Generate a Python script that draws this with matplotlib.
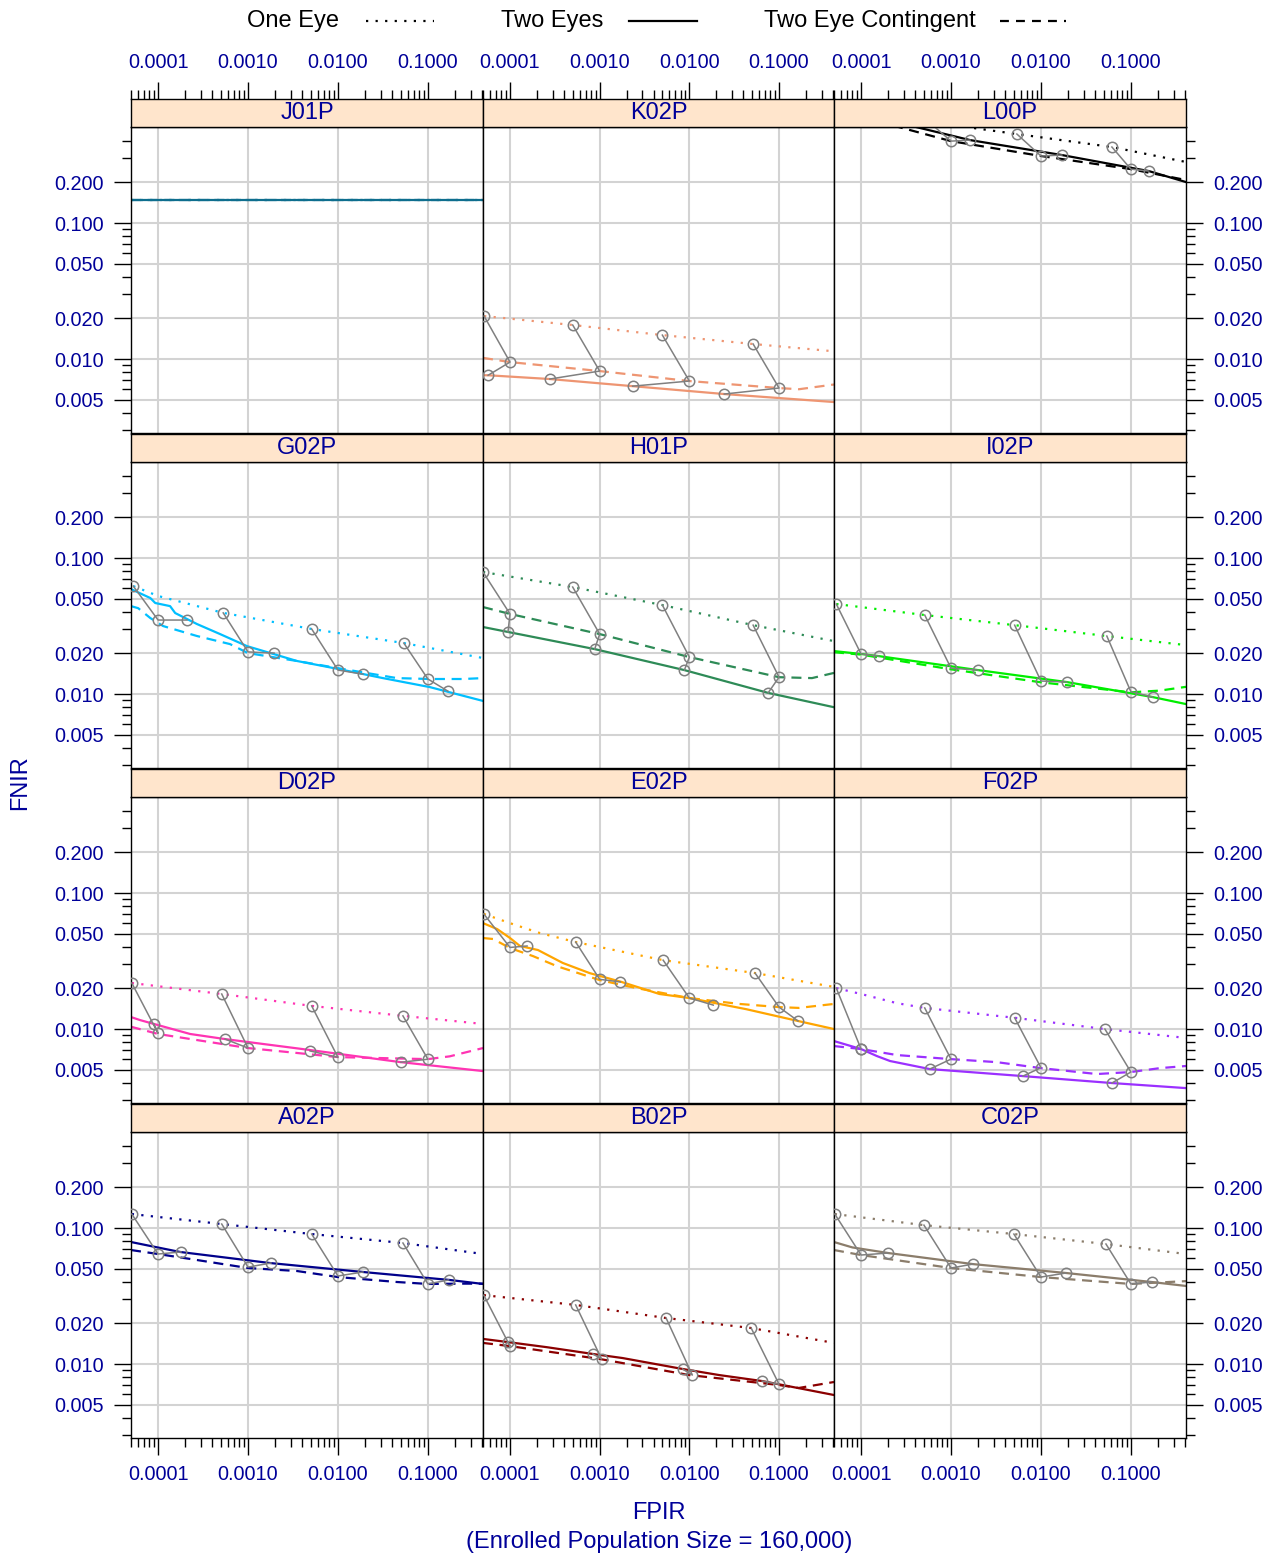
import matplotlib
matplotlib.use("Agg")
import matplotlib.pyplot as plt
from matplotlib.lines import Line2D
from matplotlib.ticker import FixedLocator, FixedFormatter, NullFormatter

plt.rcParams['font.family'] = ['Liberation Sans', 'DejaVu Sans']

# ---- data: (FPIR, FNIR) points ----
j01p_one = [(5e-5, 0.1475), (0.41, 0.1475)]
j01p_two = [(5e-5, 0.1475), (0.41, 0.1475)]
j01p_cont = [(5e-5, 0.1475), (0.41, 0.1475)]
j01p_marks = []

k02p_one = [(5.14e-5, 0.0207), (5.0e-4, 0.0178), (5.0e-3, 0.0150), (0.0514, 0.0129), (0.41, 0.0114)]
k02p_two = [(5e-5, 0.0076), (5.7e-5, 0.0076), (2.78e-4, 0.00713), (2.33e-3, 0.00632), (0.0245, 0.00553), (0.41, 0.00483)]
k02p_cont = [(5e-5, 0.0102), (1e-4, 0.0095), (1e-3, 0.00816), (0.01, 0.00689), (0.1, 0.00612), (0.167, 0.0060), (0.41, 0.0065)]
k02p_marks = [[(5.14e-5, 0.0207), (1e-4, 0.0095), (5.7e-5, 0.0076)],
              [(5e-4, 0.0178), (1e-3, 0.00816), (2.78e-4, 0.00713)],
              [(5e-3, 0.0150), (0.01, 0.00689), (2.33e-3, 0.00632)],
              [(0.0514, 0.0129), (0.1, 0.00612), (0.0245, 0.00553)]]

l00p_one = [(5.4e-4, 0.57), (0.00175, 0.50), (5.4e-3, 0.451), (0.0615, 0.362), (0.41, 0.281)]
l00p_two = [(2.5e-4, 0.55), (4.5e-4, 0.50), (1.63e-3, 0.407), (0.0171, 0.316), (0.158, 0.241), (0.41, 0.20)]
l00p_cont = [(1.5e-4, 0.56), (2.86e-4, 0.50), (1e-3, 0.40), (0.01, 0.311), (0.1, 0.249), (0.41, 0.207)]
l00p_marks = [[(5.4e-4, 0.57), (1e-3, 0.40), (1.63e-3, 0.407)],
              [(5.4e-3, 0.451), (0.01, 0.311), (0.0171, 0.316)],
              [(0.0615, 0.362), (0.1, 0.249), (0.158, 0.241)]]

g02p_one = [(5.3e-5, 0.0622), (1e-4, 0.0526), (5.3e-4, 0.0395), (5.1e-3, 0.0301), (0.054, 0.0237), (0.41, 0.0184)]
g02p_two = [(5e-5, 0.0591), (8.2e-5, 0.0508), (9.3e-5, 0.0467), (1.36e-4, 0.0443), (1.55e-4, 0.0394),
            (2.71e-4, 0.0327), (4.89e-4, 0.0276), (9.75e-4, 0.0225), (3.5e-3, 0.0175), (0.01, 0.0153),
            (0.0316, 0.0131), (0.105, 0.01125), (0.41, 0.0089)]
g02p_cont = [(5e-5, 0.0443), (6e-5, 0.0428), (8.2e-5, 0.0362), (1.14e-4, 0.0316), (2.71e-4, 0.0267),
             (6.3e-4, 0.0233), (1e-3, 0.020), (3.5e-3, 0.0175), (0.01, 0.0155), (0.0453, 0.0131),
             (0.105, 0.0129), (0.245, 0.0129), (0.41, 0.0131)]
g02p_marks = [[(5.3e-5, 0.0622), (1e-4, 0.035), (2.1e-4, 0.035)],
              [(5.3e-4, 0.0395), (1e-3, 0.0204), (1.95e-3, 0.020)],
              [(5.1e-3, 0.0301), (0.01, 0.015), (0.019, 0.014)],
              [(0.054, 0.0237), (0.1, 0.0129), (0.167, 0.0105)]]

h01p_one = [(5e-5, 0.0789), (5e-4, 0.0612), (5e-3, 0.0451), (0.0514, 0.0321), (0.41, 0.0245)]
h01p_two = [(5e-5, 0.0311), (9.5e-5, 0.0286), (8.8e-4, 0.0214), (8.8e-3, 0.015), (0.0755, 0.0102), (0.41, 0.008)]
h01p_cont = [(5e-5, 0.0436), (1e-4, 0.0388), (1e-3, 0.0276), (0.01, 0.0187), (0.1, 0.0133), (0.233, 0.0131), (0.41, 0.0143)]
h01p_marks = [[(5e-5, 0.0789), (1e-4, 0.0388), (9.5e-5, 0.0286)],
              [(5e-4, 0.0612), (1e-3, 0.0276), (8.8e-4, 0.0214)],
              [(5e-3, 0.0451), (0.01, 0.0187), (8.8e-3, 0.015)],
              [(0.0514, 0.0321), (0.1, 0.0133), (0.0755, 0.0102)]]

i02p_one = [(5.3e-5, 0.0459), (5.1e-4, 0.0381), (5.1e-3, 0.0321), (0.054, 0.0267), (0.41, 0.0229)]
i02p_two = [(5e-5, 0.0207), (1e-4, 0.0197), (1.58e-4, 0.019), (2e-3, 0.015), (0.0194, 0.01225), (0.175, 0.0095), (0.41, 0.00844)]
i02p_cont = [(5e-5, 0.0203), (1e-4, 0.0195), (1e-3, 0.0152), (0.01, 0.0122), (0.1, 0.0103), (0.21, 0.0106), (0.41, 0.0113)]
i02p_marks = [[(5.3e-5, 0.0459), (1e-4, 0.0197), (1.58e-4, 0.019)],
              [(5.1e-4, 0.0381), (1e-3, 0.0155), (2e-3, 0.015)],
              [(5.1e-3, 0.0321), (0.01, 0.01247), (0.0194, 0.01225)],
              [(0.054, 0.0267), (0.1, 0.0104), (0.175, 0.0095)]]

d02p_one = [(5.1e-5, 0.0218), (5.1e-4, 0.0181), (5.1e-3, 0.0148), (0.0528, 0.0125), (0.41, 0.0109)]
d02p_two = [(5e-5, 0.01225), (6.3e-5, 0.01164), (9e-5, 0.0109), (2.27e-4, 0.0092), (5.55e-4, 0.00844),
            (4.9e-3, 0.00701), (0.0489, 0.00572), (0.41, 0.00491)]
d02p_cont = [(5e-5, 0.0104), (1e-4, 0.0092), (1e-3, 0.00725), (0.01, 0.00622), (0.1, 0.00601), (0.175, 0.0063), (0.41, 0.00725)]
d02p_marks = [[(5.1e-5, 0.0218), (1e-4, 0.0093), (9e-5, 0.0109)],
              [(5.1e-4, 0.0181), (1e-3, 0.00725), (5.55e-4, 0.00844)],
              [(5.1e-3, 0.0148), (0.01, 0.0062), (4.9e-3, 0.0069)],
              [(0.0528, 0.0125), (0.1, 0.006), (0.05, 0.0057)]]

e02p_one = [(5.1e-5, 0.0702), (1.08e-4, 0.059), (2.15e-4, 0.0508), (5.4e-4, 0.0436), (5.1e-3, 0.0321), (0.054, 0.0258), (0.41, 0.0204)]
e02p_two = [(5e-5, 0.0601), (7.2e-5, 0.0543), (1e-4, 0.0467), (1.29e-4, 0.0408), (2.05e-4, 0.0381),
            (3.88e-4, 0.0306), (7.7e-4, 0.0258), (1.75e-3, 0.0222), (4.64e-3, 0.0181), (0.01, 0.0169),
            (0.043, 0.014), (0.163, 0.01146), (0.41, 0.010)]
e02p_cont = [(5e-5, 0.0467), (6.5e-5, 0.0459), (1e-4, 0.0394), (1.8e-4, 0.0344), (3.33e-4, 0.029),
             (1e-3, 0.0229), (2.58e-3, 0.020), (0.01, 0.0169), (0.036, 0.0153), (0.1, 0.0145),
             (0.166, 0.0143), (0.41, 0.0153)]
e02p_marks = [[(5.1e-5, 0.0702), (1e-4, 0.0398), (1.55e-4, 0.0408)],
              [(5.4e-4, 0.0436), (1e-3, 0.0232), (1.7e-3, 0.0222)],
              [(5.1e-3, 0.0321), (0.01, 0.0169), (0.0185, 0.015)],
              [(0.054, 0.0258), (0.1, 0.0145), (0.163, 0.01146)]]

f02p_one = [(5.3e-5, 0.020), (1e-4, 0.0181), (2.5e-4, 0.0155), (5.1e-4, 0.0143), (5.1e-3, 0.0121), (0.0514, 0.010), (0.41, 0.0086)]
f02p_two = [(5e-5, 0.00816), (1e-4, 0.00713), (1.5e-4, 0.00633), (2.1e-4, 0.00582), (5.8e-4, 0.00508),
            (6.3e-3, 0.00451), (0.0615, 0.00401), (0.41, 0.00368)]
f02p_cont = [(5e-5, 0.0075), (1e-4, 0.00713), (2.5e-4, 0.00644), (1e-3, 0.00601), (3.24e-3, 0.00571),
             (0.01, 0.00516), (0.0419, 0.00467), (0.1, 0.00483), (0.21, 0.00516), (0.41, 0.00535)]
f02p_marks = [[(5.3e-5, 0.020), (1e-4, 0.00713), (1e-4, 0.00713)],
              [(5.1e-4, 0.0143), (1e-3, 0.00601), (5.8e-4, 0.00508)],
              [(5.1e-3, 0.0121), (0.01, 0.0052), (6.3e-3, 0.00451)],
              [(0.0514, 0.010), (0.1, 0.00483), (0.0615, 0.00401)]]

a02p_one = [(5.1e-5, 0.1267), (5.1e-4, 0.107), (5.1e-3, 0.0903), (0.0528, 0.0776), (0.41, 0.0644)]
a02p_two = [(5e-5, 0.0789), (8.2e-5, 0.0738), (1.75e-4, 0.0667), (1.75e-3, 0.0553), (0.019, 0.0475), (0.175, 0.0415), (0.41, 0.0388)]
a02p_cont = [(5e-5, 0.0689), (1e-4, 0.0644), (2.7e-4, 0.0582), (1e-3, 0.0508), (3.5e-3, 0.0483),
             (0.01, 0.0436), (0.0453, 0.0401), (0.1, 0.0388), (0.245, 0.039), (0.41, 0.039)]
a02p_marks = [[(5.1e-5, 0.1267), (1e-4, 0.0644), (1.8e-4, 0.0667)],
              [(5.1e-4, 0.107), (1e-3, 0.0516), (1.8e-3, 0.0553)],
              [(5.1e-3, 0.0903), (0.01, 0.0444), (0.019, 0.0475)],
              [(0.0528, 0.0776), (0.1, 0.0388), (0.17, 0.0415)]]

b02p_one = [(5.1e-5, 0.0321), (5.4e-4, 0.0272), (5.5e-3, 0.0218), (0.0489, 0.0184), (0.41, 0.0143)]
b02p_two = [(5e-5, 0.0153), (9.5e-5, 0.0145), (2.58e-4, 0.0133), (8.4e-4, 0.01186), (1.8e-3, 0.01107),
            (8.4e-3, 0.0092), (0.0215, 0.0083), (0.0648, 0.0075), (0.41, 0.00592)]
b02p_cont = [(5e-5, 0.0143), (1e-4, 0.01355), (1e-3, 0.0109), (0.01, 0.0083), (0.1, 0.00701), (0.166, 0.00667), (0.41, 0.00738)]
b02p_marks = [[(5.1e-5, 0.0321), (1e-4, 0.01355), (9.5e-5, 0.0145)],
              [(5.4e-4, 0.0272), (1.05e-3, 0.0109), (8.4e-4, 0.01186)],
              [(5.5e-3, 0.0218), (0.0108, 0.0083), (8.4e-3, 0.0092)],
              [(0.0489, 0.0184), (0.1, 0.0071), (0.0648, 0.0075)]]

c02p_one = [(5.1e-5, 0.1267), (5e-4, 0.105), (5e-3, 0.0903), (0.0528, 0.0763), (0.41, 0.0644)]
c02p_two = [(5e-5, 0.0789), (8e-5, 0.072), (2e-4, 0.0655), (1.75e-3, 0.0543), (0.019, 0.0467), (0.17, 0.0401), (0.41, 0.0375)]
c02p_cont = [(5e-5, 0.0689), (1e-4, 0.0633), (1e-3, 0.0508), (0.01, 0.0436), (0.1, 0.0388), (0.41, 0.0407)]
c02p_marks = [[(5.1e-5, 0.1267), (1e-4, 0.0633), (2e-4, 0.0655)],
              [(5e-4, 0.105), (1e-3, 0.0508), (1.75e-3, 0.0543)],
              [(5e-3, 0.0903), (0.01, 0.0436), (0.019, 0.0467)],
              [(0.0528, 0.0763), (0.1, 0.0388), (0.17, 0.0401)]]

# panels, row by row from the top
panels = [
    [("J01P", "#0E6E8E", j01p_one, j01p_two, j01p_cont, j01p_marks),
     ("K02P", "#EE9572", k02p_one, k02p_two, k02p_cont, k02p_marks),
     ("L00P", "#000000", l00p_one, l00p_two, l00p_cont, l00p_marks)],
    [("G02P", "#00BFFF", g02p_one, g02p_two, g02p_cont, g02p_marks),
     ("H01P", "#2E8B57", h01p_one, h01p_two, h01p_cont, h01p_marks),
     ("I02P", "#00EE00", i02p_one, i02p_two, i02p_cont, i02p_marks)],
    [("D02P", "#FF34B3", d02p_one, d02p_two, d02p_cont, d02p_marks),
     ("E02P", "#FFA500", e02p_one, e02p_two, e02p_cont, e02p_marks),
     ("F02P", "#9B30FF", f02p_one, f02p_two, f02p_cont, f02p_marks)],
    [("A02P", "#00008B", a02p_one, a02p_two, a02p_cont, a02p_marks),
     ("B02P", "#8B0000", b02p_one, b02p_two, b02p_cont, b02p_marks),
     ("C02P", "#8B7D6B", c02p_one, c02p_two, c02p_cont, c02p_marks)],
]

x_major = [1e-4, 1e-3, 1e-2, 1e-1]
x_minor = [k * 10.0 ** e for e in range(-5, 0) for k in range(2, 10)]
y_major = [0.005, 0.01, 0.02, 0.05, 0.1, 0.2]
y_minor = [k * 10.0 ** e for e in range(-3, 0) for k in (3, 4, 6, 7, 8, 9)] + [0.002]

XLIM = (5.0e-5, 0.41)
YLIM = (0.00286, 0.508)
TXT = "#000099"
DOT = (0, (1, 3.3))
DASH = (0, (4.5, 3))

W, H = 1275, 1555
fig = plt.figure(figsize=(W / 100, H / 100), dpi=100)


def rect(l, t, r, b):
    return [l / W, 1 - b / H, (r - l) / W, (b - t) / H]


cols = [(131, 483), (483, 834), (834, 1186)]

for r, row in enumerate(panels):
    top = 127 + r * 335
    bot = 433 + r * 335
    for c, (name, col, one, two, cont, marks) in enumerate(row):
        l, rr = cols[c]
        ax = fig.add_axes(rect(l, top, rr, bot))
        ax.set_xscale('log')
        ax.set_yscale('log')
        ax.set_xlim(*XLIM)
        ax.set_ylim(*YLIM)
        for gx in x_major:
            ax.axvline(gx, color='#D3D3D3', lw=1.5, zorder=0)
        for gy in y_major:
            ax.axhline(gy, color='#D3D3D3', lw=1.5, zorder=0)

        ax.plot(*zip(*one), color=col, ls=DOT, lw=1.6, zorder=2)
        ax.plot(*zip(*cont), color=col, ls=DASH, lw=1.6, zorder=2)
        ax.plot(*zip(*two), color=col, lw=1.6, zorder=2)
        for trip in marks:
            ax.plot(*zip(*trip), color='#808080', lw=1.1, marker='o', ms=7.5,
                    mfc='none', mec='#808080', mew=1.1, zorder=3)

        for s in ax.spines.values():
            s.set_linewidth(1.0)

        # y axis: labels on the outer columns only
        ax.yaxis.set_major_locator(FixedLocator(y_major))
        ax.yaxis.set_minor_locator(FixedLocator(y_minor))
        ax.yaxis.set_major_formatter(FixedFormatter(["%.3f" % v for v in y_major]))
        ax.yaxis.set_minor_formatter(NullFormatter())
        if c == 0:
            ax.tick_params(axis='y', which='both', left=True, right=False,
                           labelleft=True, labelright=False)
        elif c == 2:
            ax.tick_params(axis='y', which='both', left=False, right=True,
                           labelleft=False, labelright=True)
        else:
            ax.tick_params(axis='y', which='both', left=False, right=False,
                           labelleft=False, labelright=False)

        ax.xaxis.set_major_locator(FixedLocator(x_major))
        ax.xaxis.set_minor_locator(FixedLocator(x_minor))
        ax.xaxis.set_major_formatter(FixedFormatter(["%.4f" % v for v in x_major]))
        ax.xaxis.set_minor_formatter(NullFormatter())
        if r == 3:
            ax.tick_params(axis='x', which='both', bottom=True, top=False,
                           labelbottom=True, labeltop=False)
        else:
            ax.tick_params(axis='x', which='both', bottom=False, top=False,
                           labelbottom=False, labeltop=False)
        ax.tick_params(which='major', direction='out', length=12, width=1,
                       labelsize=14.3, labelcolor=TXT, pad=7.5)
        ax.tick_params(which='minor', direction='out', length=6.5, width=1)

        # strip on top of the panel
        sx = fig.add_axes(rect(l, top - 28, rr, top))
        sx.set_facecolor('#FFE5CC')
        sx.set_xscale('log')
        sx.set_xlim(*XLIM)
        sx.set_ylim(0, 1)
        sx.set_yticks([])
        for s in sx.spines.values():
            s.set_linewidth(1.0)
        sx.text(0.5, 0.5, name, transform=sx.transAxes, ha='center', va='center',
                fontsize=17, color=TXT)
        sx.xaxis.set_major_locator(FixedLocator(x_major))
        sx.xaxis.set_minor_locator(FixedLocator(x_minor))
        sx.xaxis.set_major_formatter(FixedFormatter(["%.4f" % v for v in x_major]))
        sx.xaxis.set_minor_formatter(NullFormatter())
        if r == 0:
            sx.tick_params(axis='x', which='both', bottom=False, top=True,
                           labelbottom=False, labeltop=True)
        else:
            sx.tick_params(axis='x', which='both', bottom=False, top=False,
                           labelbottom=False, labeltop=False)
        sx.tick_params(which='major', direction='out', length=12, width=1,
                       labelsize=14.3, labelcolor=TXT, pad=7.5)
        sx.tick_params(which='minor', direction='out', length=6.5, width=1)

# axis titles
fig.text(20 / W, 1 - 783 / H, "FNIR", rotation=90, ha='center', va='center',
         fontsize=17, color=TXT)
fig.text(659 / W, 1 - 1513 / H, "FPIR", ha='center', va='center', fontsize=17, color=TXT)
fig.text(659 / W, 1 - 1542 / H, "(Enrolled Population Size = 160,000)", ha='center',
         va='center', fontsize=17, color=TXT)

# legend across the top
leg_y = 1 - 21 / H
legend_items = [("One Eye", 293, DOT, 366, 434),
                ("Two Eyes", 552, '-', 629, 697),
                ("Two Eye Contingent", 870, (0, (4, 3.2)), 1000, 1066)]
for label, tx, ls, x0, x1 in legend_items:
    fig.text(tx / W, leg_y, label, ha='center', va='center', fontsize=17, color='black')
    fig.add_artist(Line2D([x0 / W, x1 / W], [leg_y, leg_y], color='black', lw=1.6, ls=ls))

fig.savefig("out.png", dpi=100)
